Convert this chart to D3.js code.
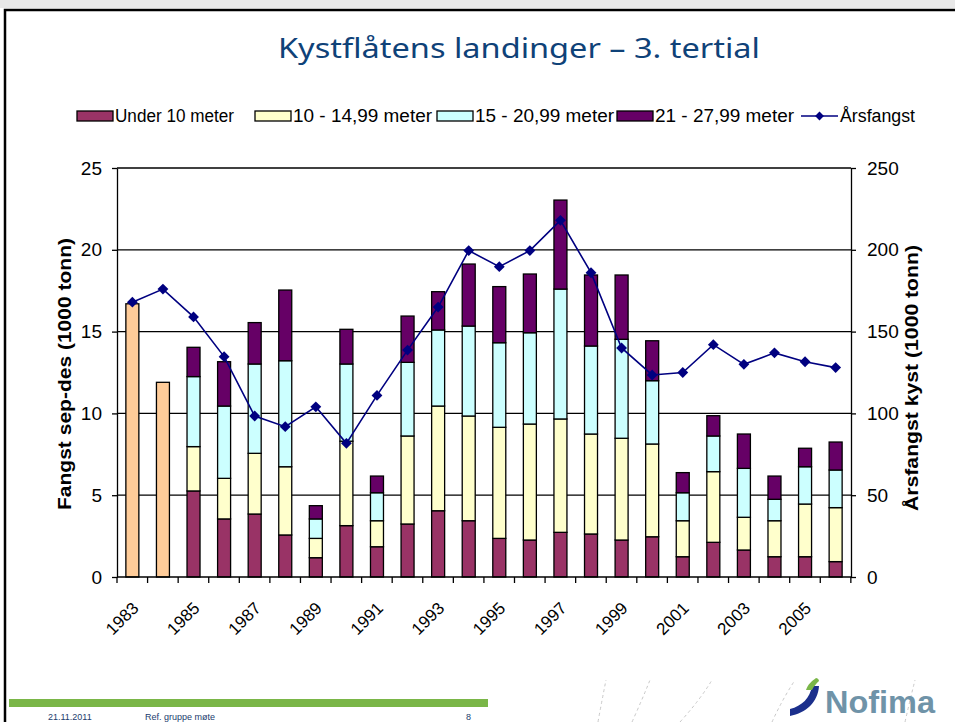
<!DOCTYPE html>
<html>
<head>
<meta charset="utf-8">
<script src="https://cdn.jsdelivr.net/npm/d3@7"></script>
<style>
  body { margin: 0; background: #fff; }
  svg { display: block; }
</style>
</head>
<body>
<div id="chart"></div>
<script>
// data
const years = d3.range(1983, 2007).map(String);
const totalOnly = [16.7, 11.9]; // 1983-84, no split by size
const under10 = [null, null, 5.26, 3.55, 3.85, 2.57, 1.18, 3.14, 1.85, 3.24, 4.05, 3.44, 2.36, 2.26, 2.73, 2.63, 2.26, 2.46, 1.24, 2.12, 1.65, 1.24, 1.24, 0.94];
const m10to15 = [null, null, 2.71, 2.48, 3.71, 4.17, 1.18, 5.16, 1.59, 5.38, 6.40, 6.40, 6.79, 7.09, 6.93, 6.11, 6.22, 5.67, 2.20, 4.32, 2.00, 2.20, 3.22, 3.30];
const m15to21 = [null, null, 4.28, 4.42, 5.46, 6.48, 1.19, 4.72, 1.71, 4.50, 4.65, 5.50, 5.17, 5.58, 7.94, 5.38, 6.05, 3.87, 1.71, 2.18, 2.99, 1.31, 2.28, 2.30];
const m21to28 = [null, null, 1.79, 2.71, 2.53, 4.32, 0.81, 2.12, 1.02, 2.83, 2.34, 3.79, 3.43, 3.59, 5.44, 4.34, 3.93, 2.44, 1.23, 1.24, 2.10, 1.42, 1.13, 1.71];
const arsfangst = [168, 176, 159, 134.7, 98.4, 91.9, 104, 81.7, 111, 138.7, 165, 199.5, 189.7, 199.5, 218, 186, 140, 123.5, 125, 142, 130, 137, 131.6, 128];

const seriesNames = ["Under 10 meter", "10 - 14,99 meter", "15 - 20,99 meter", "21 - 27,99 meter"];
const seriesColors = ["#993366", "#ffffcc", "#ccffff", "#660066"];
const earlyColor = "#ffcc99";
const lineColor = "#000080";

const W = 955, H = 722;
const m = { left: 117, right: 851, top: 168, bottom: 577 };

const svg = d3.select("#chart").append("svg")
  .attr("width", W)
  .attr("height", H)
  .style("font-family", "Arial, 'Liberation Sans', sans-serif");

// slide frame
svg.append("rect").attr("x", 0).attr("y", 0).attr("width", W).attr("height", 8).attr("fill", "#e8e8e8");
svg.append("path")
  .attr("d", `M5,${H} V10 H${W}`)
  .attr("fill", "none").attr("stroke", "#000").attr("stroke-width", 2.5);

// title
svg.append("text")
  .attr("x", 519).attr("y", 58)
  .attr("text-anchor", "middle")
  .attr("fill", "#0f4278")
  .attr("textLength", 482).attr("lengthAdjust", "spacingAndGlyphs")
  .style("font-family", "'Comic Sans MS', 'Noto Sans', sans-serif")
  .style("font-size", "27px")
  .text("Kystflåtens landinger – 3. tertial");

const x = d3.scaleBand().domain(years).range([m.left, m.right]).paddingInner(0.575).paddingOuter(0.29);
const y = d3.scaleLinear().domain([0, 25]).range([m.bottom, m.top]);
const y2 = d3.scaleLinear().domain([0, 250]).range([m.bottom, m.top]);

// gridlines
svg.append("g")
  .selectAll("line")
  .data(y.ticks(5).filter(d => d > 0))
  .join("line")
  .attr("x1", m.left).attr("x2", m.right)
  .attr("y1", d => y(d)).attr("y2", d => y(d))
  .attr("stroke", "#000").attr("stroke-width", 1.3);

// stacked data
const rows = years.map((yr, i) => ({
  year: yr,
  under10: under10[i] || 0,
  m10to15: m10to15[i] || 0,
  m15to21: m15to21[i] || 0,
  m21to28: m21to28[i] || 0
}));
const keys = ["under10", "m10to15", "m15to21", "m21to28"];
const stacked = d3.stack().keys(keys)(rows);

const barG = svg.append("g").attr("stroke", "#000").attr("stroke-width", 1.3);

barG.selectAll("rect.early")
  .data(totalOnly)
  .join("rect")
  .attr("class", "early")
  .attr("x", (d, i) => x(years[i]))
  .attr("width", x.bandwidth())
  .attr("y", d => y(d))
  .attr("height", d => y(0) - y(d))
  .attr("fill", earlyColor);

stacked.forEach((layer, k) => {
  barG.append("g")
    .attr("fill", seriesColors[k])
    .selectAll("rect")
    .data(layer.filter(d => d[1] > d[0]))
    .join("rect")
    .attr("x", d => x(d.data.year))
    .attr("width", x.bandwidth())
    .attr("y", d => y(d[1]))
    .attr("height", d => y(d[0]) - y(d[1]));
});

// axes
const axisStyle = g => {
  g.selectAll("path, line").attr("stroke", "#000").attr("stroke-width", 1.3);
  g.selectAll("text").attr("fill", "#000").style("font-size", "19px").style("font-family", "Arial, 'Liberation Sans', sans-serif");
};

svg.append("g")
  .attr("transform", `translate(${m.left},0)`)
  .call(d3.axisLeft(y).ticks(5).tickSize(5).tickSizeOuter(0).tickPadding(10))
  .call(axisStyle);

svg.append("g")
  .attr("transform", `translate(${m.right},0)`)
  .call(d3.axisRight(y2).ticks(5).tickSize(5).tickSizeOuter(0).tickPadding(11))
  .call(axisStyle);

// x axis: ticks on category boundaries
const step = x.step();
const xg = svg.append("g");
xg.append("line")
  .attr("x1", m.left).attr("x2", m.right)
  .attr("y1", m.bottom).attr("y2", m.bottom)
  .attr("stroke", "#000").attr("stroke-width", 1.3);
xg.selectAll("line.tick")
  .data(d3.range(years.length + 1))
  .join("line")
  .attr("class", "tick")
  .attr("x1", i => m.left + i * step).attr("x2", i => m.left + i * step)
  .attr("y1", m.bottom).attr("y2", m.bottom + 6)
  .attr("stroke", "#000").attr("stroke-width", 1.3);
xg.selectAll("text")
  .data(years.filter((d, i) => i % 2 === 0))
  .join("text")
  .attr("transform", d => `translate(${x(d) + x.bandwidth() / 2 + 3},${m.bottom + 28}) rotate(-45)`)
  .attr("text-anchor", "end")
  .attr("dy", "0.35em")
  .style("font-size", "17px")
  .text(d => d);

// line series
const line = d3.line()
  .x((d, i) => x(years[i]) + x.bandwidth() / 2)
  .y(d => y2(d));
svg.append("path")
  .datum(arsfangst)
  .attr("d", line)
  .attr("fill", "none")
  .attr("stroke", lineColor)
  .attr("stroke-width", 1.6);
svg.append("g")
  .selectAll("path")
  .data(arsfangst)
  .join("path")
  .attr("transform", (d, i) => `translate(${x(years[i]) + x.bandwidth() / 2},${y2(d)})`)
  .attr("d", d3.symbol(d3.symbolDiamond2, 75))
  .attr("fill", lineColor);

// axis titles
svg.append("text")
  .attr("transform", `translate(71,374) rotate(-90)`)
  .attr("text-anchor", "middle")
  .attr("textLength", 272).attr("lengthAdjust", "spacingAndGlyphs")
  .style("font-size", "19px").style("font-weight", "bold")
  .text("Fangst sep-des  (1000 tonn)");
svg.append("text")
  .attr("transform", `translate(918,378) rotate(-90)`)
  .attr("text-anchor", "middle")
  .attr("textLength", 266).attr("lengthAdjust", "spacingAndGlyphs")
  .style("font-size", "19px").style("font-weight", "bold")
  .text("Årsfangst kyst  (1000 tonn)");

// legend
const legendX = [77, 255, 437, 617];
const legend = svg.append("g").style("font-size", "18px");
seriesNames.forEach((name, k) => {
  legend.append("rect")
    .attr("x", legendX[k]).attr("y", 111)
    .attr("width", 36).attr("height", 10)
    .attr("fill", seriesColors[k]).attr("stroke", "#000").attr("stroke-width", 1.3);
  legend.append("text")
    .attr("x", legendX[k] + 38).attr("y", 116).attr("dy", "0.35em")
    .attr("textLength", k === 0 ? 119 : 139).attr("lengthAdjust", "spacingAndGlyphs")
    .text(name);
});
legend.append("line")
  .attr("x1", 801).attr("x2", 838).attr("y1", 116).attr("y2", 116)
  .attr("stroke", lineColor).attr("stroke-width", 1.6);
legend.append("path")
  .attr("transform", "translate(819.5,116)")
  .attr("d", d3.symbol(d3.symbolDiamond2, 50))
  .attr("fill", lineColor);
legend.append("text")
  .attr("x", 840).attr("y", 116).attr("dy", "0.35em")
  .attr("textLength", 75).attr("lengthAdjust", "spacingAndGlyphs")
  .text("Årsfangst");

// footer
const footer = svg.append("g");
footer.append("rect").attr("x", 9).attr("y", 699).attr("width", 479).attr("height", 8).attr("fill", "#7ab648");
footer.append("g")
  .style("font-size", "9px").attr("fill", "#1b3c6e")
  .selectAll("text")
  .data([["21.11.2011", 48], ["Ref. gruppe møte", 145], ["8", 466]])
  .join("text")
  .attr("x", d => d[1]).attr("y", 720)
  .text(d => d[0]);

// faint decorative strokes near the logo
footer.append("g")
  .attr("fill", "none").attr("stroke", "#c8c8c8").attr("stroke-width", 1).attr("stroke-dasharray", "3,3")
  .selectAll("path")
  .data(["M598,722 Q602,700 606,680", "M632,722 Q642,700 650,680", "M680,722 Q700,700 712,680", "M772,722 Q782,700 795,680", "M905,722 Q910,700 915,680"])
  .join("path")
  .attr("d", d => d);

// Nofima logo
footer.append("path")
  .attr("d", "M790,716 C806,713 818,702 819,686 L812,686 C810,698 802,706 790,709 Z")
  .attr("fill", "#1b2f8c");
footer.append("path")
  .attr("d", "M819,681 C819,679 817,678 816,678 C812,681 808,684 806,690 L812,690 C814,686 816,684 819,681 Z")
  .attr("fill", "#7ab648");
footer.append("text")
  .attr("x", 825).attr("y", 713)
  .attr("fill", "#6f93a8")
  .attr("textLength", 110).attr("lengthAdjust", "spacingAndGlyphs")
  .style("font-size", "32px").style("font-weight", "bold")
  .text("Nofima");
</script>
</body>
</html>
